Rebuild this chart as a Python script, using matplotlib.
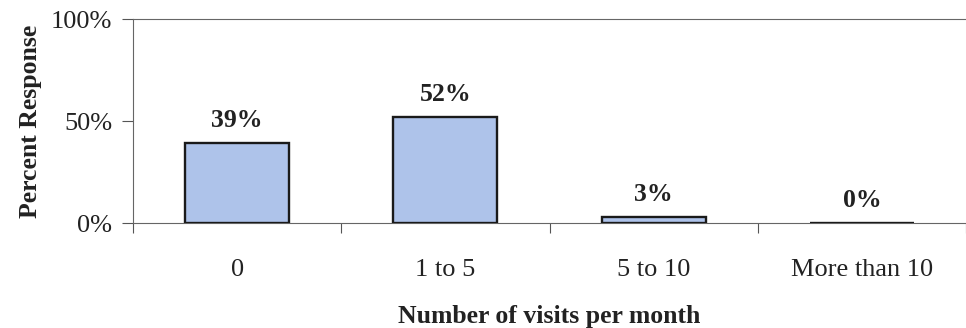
import numpy as np
import matplotlib.pyplot as plt

plt.rcParams['font.family'] = ['Liberation Serif', 'DejaVu Serif']

categories = ['0', '1 to 5', '5 to 10', 'More than 10']
percents = [39, 52, 3, 0]
value_labels = ['39%', '52%', '3%', '0%']

fig = plt.figure(figsize=(9.66, 3.28), dpi=100)
ax = fig.add_axes([0.1377, 0.320, 0.8623, 0.622])

x = np.arange(len(categories))
ax.bar(x, percents, width=0.5, color='#aec3ea', edgecolor='#1a1a1a', linewidth=1.7, zorder=3)

for xi, val, lab in zip(x, percents, value_labels):
    ax.annotate(lab, (xi, val), xytext=(0, 8), textcoords='offset points',
                ha='center', va='bottom', fontsize=18.5, fontweight='bold', color='#222222')

ax.set_xlim(-0.5, len(categories) - 0.5)
ax.set_ylim(0, 100)
ax.set_yticks([0, 50, 100])
ax.set_yticklabels(['0%', '50%', '100%'], fontsize=19, color='#222222')

# category names sit between the boundary ticks
ax.set_xticks(np.arange(len(categories) + 1) - 0.5)
ax.set_xticklabels([])
ax.set_xticks(x, minor=True)
ax.set_xticklabels(categories, minor=True, fontsize=19, color='#222222')
ax.tick_params(axis='x', which='minor', length=0, pad=26)
ax.tick_params(axis='x', which='major', length=7, width=0.8, color='#555555', direction='out')
ax.tick_params(axis='y', length=8, width=0.8, color='#555555', pad=7)

ax.spines['right'].set_visible(False)
for side in ['left', 'bottom', 'top']:
    ax.spines[side].set_color('#666666')
    ax.spines[side].set_linewidth(0.8)

ax.set_ylabel('Percent Response', fontsize=18.5, fontweight='bold', labelpad=6, color='#222222')
ax.set_xlabel('Number of visits per month', fontsize=18.5, fontweight='bold', labelpad=17, color='#222222')

fig.savefig('out.png', dpi=100)
